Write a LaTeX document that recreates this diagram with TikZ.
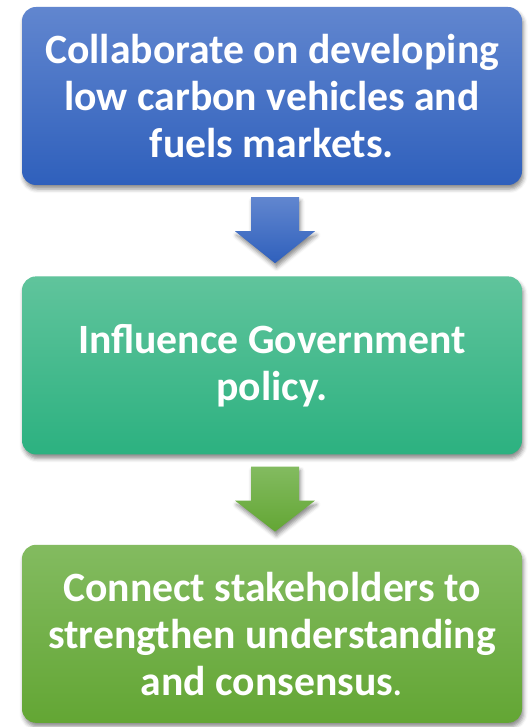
\documentclass[tikz,border=0pt]{standalone}
\usepackage{fontspec}
\setmainfont{Carlito}
\usetikzlibrary{positioning,calc,shadows.blur}

\definecolor{bluetop}{RGB}{97,134,207}
\definecolor{bluebot}{RGB}{47,96,188}
\definecolor{tealtop}{RGB}{96,196,156}
\definecolor{tealbot}{RGB}{44,177,128}
\definecolor{greentop}{RGB}{131,187,96}
\definecolor{greenbot}{RGB}{99,166,52}

\tikzset{
  softshadow/.style={blur shadow={shadow xshift=1.5pt, shadow yshift=-4pt,
      shadow blur radius=4pt, shadow opacity=45}},
  goalbox/.style={rounded corners=14pt, minimum width=500pt,
      minimum height=178pt, align=center, text=white,
      font=\bfseries\fontsize{41.7}{47}\selectfont,
      top color=#1top, bottom color=#1bot, softshadow},
}

% block arrow hanging between two boxes
\newcommand\flowarrow[3]{%
  \path[top color=#3top, bottom color=#3bot, softshadow]
    ($(#1.south)+(-21pt,-12pt)$) -- ($(#1.south)+(27pt,-12pt)$)
    -- ($(#1.south)+(27pt,-46pt)$) -- ($(#1.south)+(43pt,-46pt)$)
    -- ($(#2.north)+(3pt,13pt)$)
    -- ($(#1.south)+(-37pt,-46pt)$) -- ($(#1.south)+(-21pt,-46pt)$) -- cycle;
}

\begin{document}
\begin{tikzpicture}
  \useasboundingbox (0,0) rectangle (530pt,-727pt);

  \node[goalbox=blue] (collab) at (272pt,-96pt)
    {Collaborate on developing\\ low carbon vehicles and\\ fuels markets.};
  \node[goalbox=teal, below=91pt of collab] (policy)
    {Influence Government\\ policy.};
  \node[goalbox=green, below=90pt of policy] (connect)
    {Connect stakeholders to\\ strengthen understanding\\ and consensus{\mdseries .}};

  \flowarrow{collab}{policy}{blue}
  \flowarrow{policy}{connect}{green}
\end{tikzpicture}
\end{document}
